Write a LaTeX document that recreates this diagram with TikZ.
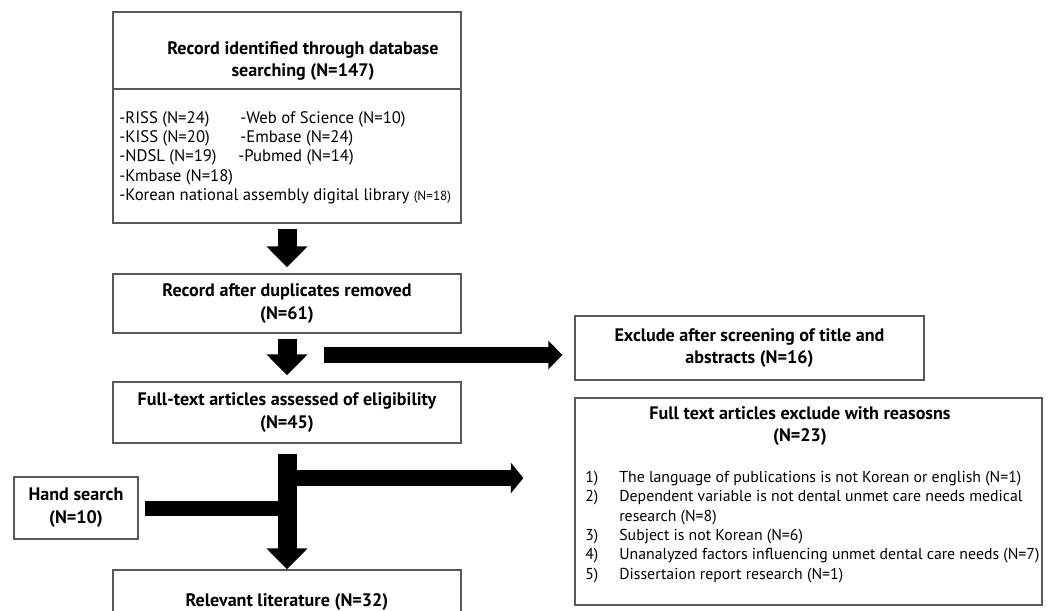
\documentclass[tikz,border=0pt]{standalone}
\usepackage{fontspec}
\setmainfont{PT Sans}
\usetikzlibrary{arrows.meta,positioning}

\tikzset{
  box/.style={draw=black!65, line width=0.8pt, inner sep=0pt, minimum width=6.96cm},
  head/.style={font=\bfseries\fontsize{10.3}{13}\selectfont, align=center, inner sep=0pt},
  body/.style={font=\fontsize{9}{11}\selectfont, align=left, inner sep=0pt},
  bigarrow/.style={line width=0.38cm, -{Triangle[width=0.8cm,length=0.42cm]}},
  midarrow/.style={line width=0.31cm, -{Triangle[width=0.56cm,length=0.28cm]}},
  smallarrow/.style={line width=0.32cm, -{Triangle[width=0.6cm,length=0.25cm]}},
}

\begin{document}
\begin{tikzpicture}[x=0.02cm, y=-0.02cm]
	\clip (0,0) rectangle (1050,611);
	% boxes
	\node[box, minimum height=1.54cm] (dbtitle) at (287,50.5) {};
	\node[box, minimum height=2.68cm] (dblist) at (287,156) {};
	\node[head] (dbtext) at (303,61) {Record identified through database\\searching (N=147)};
	\node[body, font=\fontsize{9.5}{11}\selectfont, anchor=north west] (dbitems) at (119,111) {%
		\makebox[2.42cm][l]{-RISS (N=24)}-Web of Science (N=10)\\
		\makebox[2.42cm][l]{-KISS (N=20)}-Embase (N=24)\\
		\makebox[2.38cm][l]{-NDSL (N=19)}-Pubmed (N=14)\\
		-Kmbase (N=18)\\
		-Korean national assembly digital library {\fontsize{7.5}{8}\selectfont (N=18)}};
	\node[box, head, minimum height=1.18cm] (dup) at (287,303.5) {Record after duplicates removed\\(N=61)};
	\node[box, head, minimum height=1.22cm] (full) at (287,412.5) {Full-text articles assessed of eligibility\\(N=45)};
	\node[box, head, minimum height=1.28cm] (rel) at (287,602) {Relevant literature (N=32)};
	\node[box, head, minimum width=2.48cm, minimum height=1.24cm] (hand) at (76,508) {Hand search\\(N=10)};
	\node[box, head, minimum width=6.98cm, minimum height=1.28cm] (excl) at (749.5,348) {Exclude after screening of title and\\abstracts (N=16)};
	\node[box, minimum width=9.34cm, minimum height=4.14cm] (reasons) at (808.5,501.5) {};
	\node[head] (reasonstitle) at (800,426) {Full text articles exclude with reasosns\\(N=23)};
	\node[body, anchor=north west] (reasonsitems) at (585,471) {%
		\makebox[0.68cm][l]{1)}The language of publications is not Korean or english (N=1)\\
		\makebox[0.68cm][l]{2)}Dependent variable is not dental unmet care needs medical\\
		\makebox[0.68cm][l]{}research (N=8)\\
		\makebox[0.68cm][l]{3)}Subject is not Korean (N=6)\\
		\makebox[0.68cm][l]{4)}Unanalyzed factors influencing unmet dental care needs (N=7)\\
		\makebox[0.68cm][l]{5)}Dissertaion report research (N=1)};
	% arrows
	\coordinate (screen) at (324,355);
	\coordinate (branch) at (288,478);
	\draw[bigarrow, shorten <=0.1cm, shorten >=0.12cm] (dblist) -- (dup);
	\draw[bigarrow, shorten <=0.1cm, shorten >=0.12cm] (dup) -- (full);
	\draw[midarrow, shorten >=0.24cm] (screen) -- (screen -| excl.west);
	\draw[line width=0.3cm, shorten <=0.12cm] (hand.east) -- (hand.east -| full.south);
	\draw[bigarrow, shorten <=0.2cm] (full) -- (rel);
	\draw[smallarrow, shorten >=1.02cm] (branch) -- (branch -| reasons.west);
\end{tikzpicture}
\end{document}
